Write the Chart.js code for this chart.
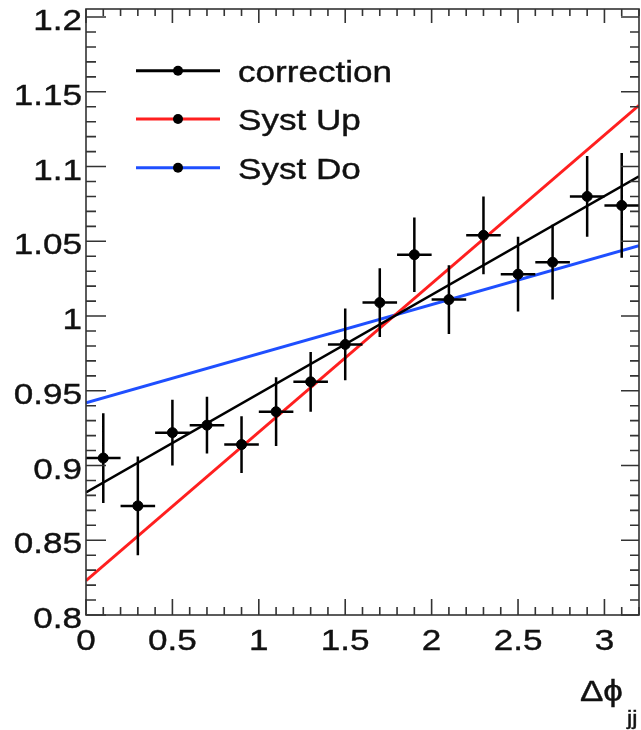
<!DOCTYPE html>
<html>
<head>
<meta charset="utf-8">
<script src="https://cdn.jsdelivr.net/npm/chart.js@4.4.0/dist/chart.umd.min.js"></script>
<style>
  html, body { margin: 0; padding: 0; background: #fff; }
  canvas { display: block; }
</style>
</head>
<body>
<canvas id="corrChart" width="641" height="730"></canvas>
<script>
// Measured correction per delta phi_jj bin
const binCenters = [0.1, 0.3, 0.5, 0.7, 0.9, 1.1, 1.3, 1.5, 1.7, 1.9, 2.1, 2.3, 2.5, 2.7, 2.9, 3.1];
const binHalfWidth = 0.1;
const corrValues = [0.905, 0.873, 0.922, 0.927, 0.914, 0.936, 0.956, 0.981, 1.009, 1.041, 1.011, 1.054, 1.028, 1.036, 1.080, 1.074];
const corrErrors = [0.030, 0.033, 0.022, 0.019, 0.019, 0.023, 0.020, 0.024, 0.023, 0.025, 0.023, 0.026, 0.025, 0.025, 0.027, 0.035];

// Fitted lines (value at each end of the range)
const fitRange = [0, 3.2];
const fitCorrection = [0.882, 1.0935];
const fitSystUp = [0.823, 1.141];
const fitSystDo = [0.942, 1.047];

const seriesNames = ['correction', 'Syst Up', 'Syst Do'];
const seriesColors = ['#000000', '#ff1f1f', '#1f4fff'];
const seriesWidths = [2.5, 3, 3];

// Axis tick labels
const xTickLabels = [0, 0.5, 1, 1.5, 2, 2.5, 3];
const yTickLabels = [0.8, 0.85, 0.9, 0.95, 1, 1.05, 1.1, 1.15, 1.2];

const TEXT_STRETCH = 1.17;
const FONT = '"Liberation Sans", Arial, sans-serif';

function drawText(ctx, str, x, y, align, size) {
    ctx.save();
    ctx.font = size + 'px ' + FONT;
    ctx.fillStyle = '#111';
    ctx.strokeStyle = '#111';
    ctx.lineWidth = 0.4;
    ctx.textAlign = align;
    ctx.textBaseline = 'alphabetic';
    ctx.translate(x, y);
    ctx.scale(TEXT_STRETCH, 1);
    ctx.fillText(str, 0, 0);
    ctx.strokeText(str, 0, 0);
    ctx.restore();
}

function toPoints(xs, ys) {
    return xs.map((x, i) => ({ x: x, y: ys[i] }));
}

// ROOT-like frame, inner ticks, labels, legend and error bars
const rootStyle = {
    id: 'rootStyle',
    afterDatasetsDraw(chart) {
        let ctx = chart.ctx;
        let xs = chart.scales.x, ys = chart.scales.y;
        ctx.save();
        ctx.strokeStyle = '#000';
        ctx.lineWidth = 2.5;
        ctx.beginPath();
        binCenters.forEach((c, i) => {
            let px = xs.getPixelForValue(c);
            let py = ys.getPixelForValue(corrValues[i]);
            ctx.moveTo(xs.getPixelForValue(c - binHalfWidth), py);
            ctx.lineTo(xs.getPixelForValue(c + binHalfWidth), py);
            ctx.moveTo(px, ys.getPixelForValue(corrValues[i] - corrErrors[i]));
            ctx.lineTo(px, ys.getPixelForValue(corrValues[i] + corrErrors[i]));
        });
        ctx.stroke();
        ctx.restore();
    },
    afterDraw(chart) {
        let ctx = chart.ctx;
        let area = chart.chartArea;
        let xs = chart.scales.x, ys = chart.scales.y;
        ctx.save();
        ctx.strokeStyle = '#333';
        ctx.lineWidth = 1.6;
        ctx.strokeRect(area.left, area.top, area.right - area.left, area.bottom - area.top);

        ctx.beginPath();
        for (let i = 0; i <= 32; i++) {
            let px = xs.getPixelForValue(i / 10);
            let major = i % 5 === 0;
            ctx.moveTo(px, area.bottom);
            ctx.lineTo(px, area.bottom - (major ? 16 : 8));
            ctx.moveTo(px, area.top);
            ctx.lineTo(px, area.top + (major ? 14 : 7));
        }
        for (let i = 0; i <= 40; i++) {
            let py = ys.getPixelForValue(0.8 + i / 100);
            let major = i % 5 === 0;
            ctx.moveTo(area.left, py);
            ctx.lineTo(area.left + (major ? 20 : 10), py);
            ctx.moveTo(area.right, py);
            ctx.lineTo(area.right - (major ? 18 : 9), py);
        }
        ctx.stroke();
        ctx.restore();

        xTickLabels.forEach(v => {
            drawText(ctx, String(v), xs.getPixelForValue(v), 650, 'center', 30);
        });
        yTickLabels.forEach(v => {
            drawText(ctx, String(v), 82, ys.getPixelForValue(v) + 13, 'right', 30);
        });

        // legend
        let rows = [70.7, 119, 167.7];
        seriesNames.forEach((name, i) => {
            ctx.save();
            ctx.strokeStyle = seriesColors[i];
            ctx.lineWidth = 3;
            ctx.beginPath();
            ctx.moveTo(136, rows[i]);
            ctx.lineTo(220, rows[i]);
            ctx.stroke();
            ctx.fillStyle = '#000';
            ctx.beginPath();
            ctx.arc(178, rows[i], 5, 0, Math.PI * 2);
            ctx.fill();
            ctx.restore();
            drawText(ctx, name, 238, rows[i] + 11, 'left', 30);
        });

        // axis title
        drawText(ctx, '\u0394\u03d5', 623, 701, 'right', 30);
        drawText(ctx, 'jj', 627, 725, 'left', 20);
    }
};

let ctx = document.getElementById('corrChart').getContext('2d');
let datasets = [{
    label: 'data',
    data: toPoints(binCenters, corrValues),
    showLine: false,
    pointRadius: 5,
    pointBackgroundColor: '#000',
    pointBorderColor: '#000'
}];
[fitCorrection, fitSystUp, fitSystDo].forEach((fit, i) => {
    datasets.push({
        label: seriesNames[i],
        data: toPoints(fitRange, fit),
        showLine: true,
        borderColor: seriesColors[i],
        borderWidth: seriesWidths[i],
        pointRadius: 0,
        fill: false
    });
});

new Chart(ctx, {
    type: 'scatter',
    data: { datasets: datasets },
    options: {
        responsive: false,
        animation: false,
        devicePixelRatio: 1,
        layout: { padding: { top: 9, right: 2, left: 0, bottom: 0 }, autoPadding: false },
        plugins: { legend: { display: false }, tooltip: { enabled: false } },
        scales: {
            x: {
                type: 'linear', min: 0, max: 3.2,
                afterFit: s => { s.height = 115; },
                ticks: { display: false }, grid: { display: false }, border: { display: false }
            },
            y: {
                type: 'linear', min: 0.8, max: 1.2054,
                afterFit: s => { s.width = 86; },
                ticks: { display: false }, grid: { display: false }, border: { display: false }
            }
        }
    },
    plugins: [rootStyle]
});
</script>
</body>
</html>
